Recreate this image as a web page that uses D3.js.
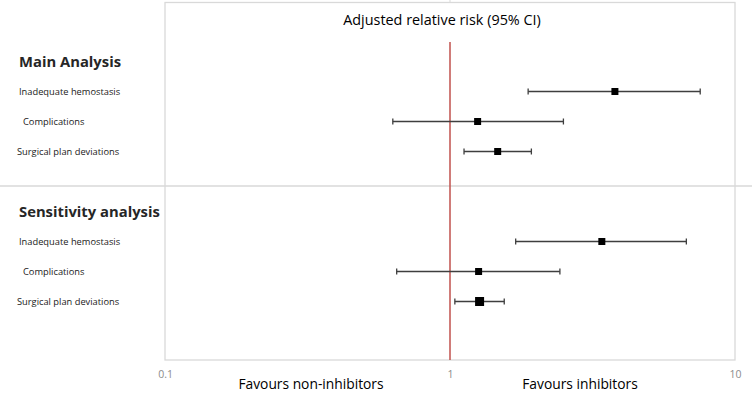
<!DOCTYPE html>
<html>
<head>
<meta charset="utf-8">
<script src="https://cdn.jsdelivr.net/npm/d3@7"></script>
<style>
  body { margin: 0; background: #fff; }
  text { font-family: "Open Sans", sans-serif; }
</style>
</head>
<body>
<script>
// data
var groups = ["Main Analysis", "Sensitivity analysis"];
var outcomes = ["Inadequate hemostasis", "Complications", "Surgical plan deviations"];
var mainRR = [3.79, 1.25, 1.47];
var mainLow = [1.88, 0.63, 1.12];
var mainHigh = [7.55, 2.50, 1.93];
var sensRR = [3.41, 1.26, 1.27];
var sensLow = [1.70, 0.65, 1.04];
var sensHigh = [6.75, 2.43, 1.55];
var tickValues = [0.1, 1, 10];
var tickLabels = ["0.1", "1", "10"];

var width = 752, height = 394;

var svg = d3.select("body")
            .append("svg")
            .attr("width", width)
            .attr("height", height);

var x = d3.scaleLog()
          .domain([0.1, 10])
          .range([165, 735]);

// row slots: 0 header, 1-3 outcomes, 4 gap, 5 header, 6-8 outcomes
var y = d3.scaleLinear()
          .domain([0, 8])
          .range([61.5, 301.5]);

var rows = [];
outcomes.forEach(function(o, i) {
  rows.push({ label: o, rr: mainRR[i], lo: mainLow[i], hi: mainHigh[i], slot: 1 + i, idx: i });
});
outcomes.forEach(function(o, i) {
  rows.push({ label: o, rr: sensRR[i], lo: sensLow[i], hi: sensHigh[i], slot: 6 + i, idx: i });
});

// plot frame
svg.append("rect")
   .attr("x", 165)
   .attr("y", 2.5)
   .attr("width", 570)
   .attr("height", 357.5)
   .attr("fill", "none")
   .attr("stroke", "#d9d9d9")
   .attr("stroke-width", 1.3);

svg.append("line")
   .attr("x1", 0)
   .attr("x2", width)
   .attr("y1", 186)
   .attr("y2", 186)
   .attr("stroke", "#d9d9d9")
   .attr("stroke-width", 1.3);

svg.append("line")
   .attr("x1", x(1))
   .attr("x2", x(1))
   .attr("y1", 0)
   .attr("y2", 3)
   .attr("stroke", "#d9d9d9");

// reference line at RR = 1
svg.append("line")
   .attr("x1", x(1))
   .attr("x2", x(1))
   .attr("y1", 42)
   .attr("y2", 360)
   .attr("stroke", "#c0504d")
   .attr("stroke-width", 1.5);

svg.append("text")
   .attr("x", 442)
   .attr("y", 25)
   .attr("text-anchor", "middle")
   .attr("font-size", 14.4)
   .attr("fill", "#000")
   .text("Adjusted relative risk (95% CI)");

// x axis labels
var axis = d3.axisBottom(x)
             .tickValues(tickValues)
             .tickFormat(function(d, i) { return tickLabels[i]; })
             .tickSize(0)
             .tickPadding(11);

var ax = svg.append("g")
            .attr("transform", "translate(0,360)")
            .call(axis);
ax.select(".domain").remove();
ax.selectAll("text")
  .attr("font-family", "Open Sans, sans-serif")
  .attr("font-size", 10.5)
  .attr("fill", "#8c8c8c");

svg.append("text")
   .attr("x", 311)
   .attr("y", 389)
   .attr("text-anchor", "middle")
   .attr("font-size", 13.8)
   .text("Favours non-inhibitors");

svg.append("text")
   .attr("x", 580)
   .attr("y", 389)
   .attr("text-anchor", "middle")
   .attr("font-size", 13.8)
   .text("Favours inhibitors");

// group headers
svg.selectAll("text.group")
   .data(groups)
   .enter()
   .append("text")
   .attr("class", "group")
   .attr("x", 19)
   .attr("y", function(d, i) { return y(i * 5); })
   .attr("dy", "0.35em")
   .attr("font-size", 14.8)
   .attr("font-weight", "bold")
   .attr("fill", "#262626")
   .text(function(d) { return d; });

var labelX = [19, 23, 17];

svg.selectAll("text.outcome")
   .data(rows)
   .enter()
   .append("text")
   .attr("class", "outcome")
   .attr("x", function(d) { return labelX[d.idx]; })
   .attr("y", function(d) { return y(d.slot); })
   .attr("dy", "0.35em")
   .attr("font-size", 9.3)
   .attr("fill", "#1a1a1a")
   .text(function(d) { return d.label; });

// error bars
var ci = svg.selectAll("g.ci")
            .data(rows)
            .enter()
            .append("g")
            .attr("class", "ci");

ci.append("line")
  .attr("x1", function(d) { return x(d.lo); })
  .attr("x2", function(d) { return x(d.hi); })
  .attr("y1", function(d) { return y(d.slot); })
  .attr("y2", function(d) { return y(d.slot); })
  .attr("stroke", "#3f3f3f")
  .attr("stroke-width", 1.3);

ci.append("line")
  .attr("x1", function(d) { return x(d.lo); })
  .attr("x2", function(d) { return x(d.lo); })
  .attr("y1", function(d) { return y(d.slot) - 3; })
  .attr("y2", function(d) { return y(d.slot) + 3; })
  .attr("stroke", "#3f3f3f")
  .attr("stroke-width", 1.3);

ci.append("line")
  .attr("x1", function(d) { return x(d.hi); })
  .attr("x2", function(d) { return x(d.hi); })
  .attr("y1", function(d) { return y(d.slot) - 3; })
  .attr("y2", function(d) { return y(d.slot) + 3; })
  .attr("stroke", "#3f3f3f")
  .attr("stroke-width", 1.3);

var markerSize = [7, 7, 7, 7, 7, 9];

ci.append("rect")
  .attr("x", function(d, i) { return x(d.rr) - markerSize[i] / 2; })
  .attr("y", function(d, i) { return y(d.slot) - markerSize[i] / 2; })
  .attr("width", function(d, i) { return markerSize[i]; })
  .attr("height", function(d, i) { return markerSize[i]; })
  .attr("fill", "#000");
</script>
</body>
</html>
